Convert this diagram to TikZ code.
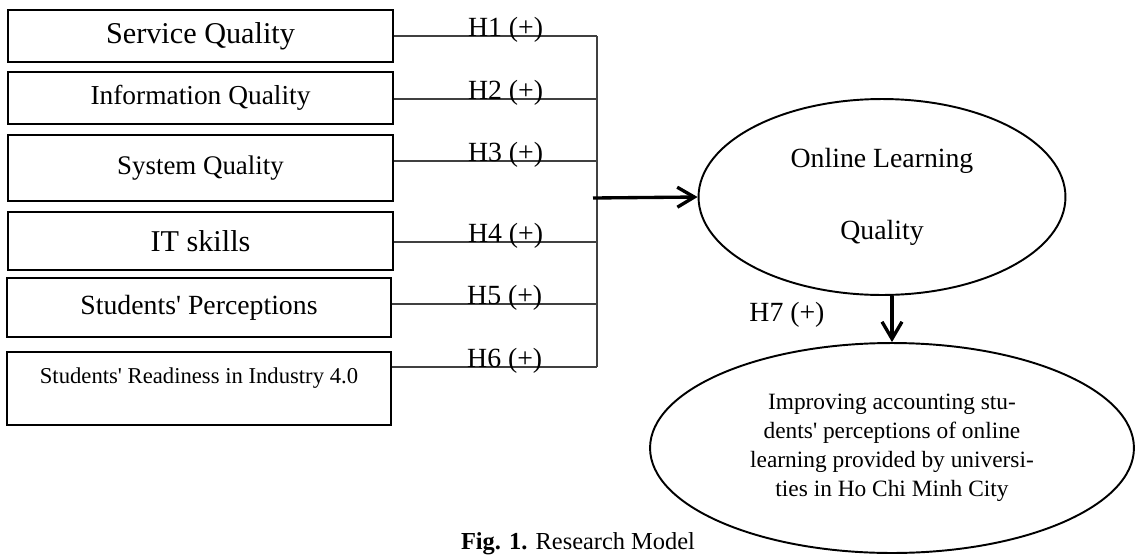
\documentclass[tikz,border=0pt]{standalone}
\usepackage{fontspec}
\setmainfont{Liberation Serif}
\usetikzlibrary{arrows.meta, positioning, shapes.geometric}
\newcommand{\fsz}[2]{\fontsize{#1}{#2}\selectfont}
\newcommand{\apos}{\textquotesingle}

\begin{document}
\begin{tikzpicture}[x=0.02cm, y=-0.02cm,
  factor/.style={draw, line width=1.1pt, minimum width=7.7cm, inner sep=0pt},
  link/.style={draw=black!75, line width=0.6pt},
  hyp/.style={anchor=base, inner sep=0pt, font=\fsz{15.8pt}{19pt}},
  bigarrow/.style={-{Straight Barb[length=3.4mm, width=4mm]}, line width=1.9pt},
  oval/.style={draw, ellipse, line width=1.1pt, inner sep=0pt, align=center}]
  \useasboundingbox (0,0) rectangle (1140,555);

  % Factors
  \node[factor, minimum height=1.04cm, font=\fsz{17.2pt}{20pt}] (sq) at (200.5,36) {Service Quality};
  \node[factor, minimum height=1.04cm, font=\fsz{15.6pt}{19pt}] (iq) at (200.5,98) {Information Quality};
  \node[factor, minimum height=1.32cm, font=\fsz{15.3pt}{18pt}] (sys) at (200.5,168) {System Quality};
  \node[factor, minimum height=1.16cm, font=\fsz{17.2pt}{20pt}] (it) at (200.5,241) {IT skills};
  \node[factor, minimum height=1.18cm, minimum width=7.68cm, font=\fsz{15.8pt}{19pt}] (sp) at (199,307.5) {Students\apos{} Perceptions};
  \node[factor, minimum height=1.46cm, minimum width=7.68cm, text depth=0.5cm, font=\fsz{12.9pt}{15pt}] (rd) at (199,388.5) {Students\apos{} Readiness in Industry 4.0};

  % Bus
  \coordinate (j1) at (597,36);
  \coordinate (j2) at (597,99);
  \coordinate (j3) at (597,161);
  \coordinate (j4) at (597,242);
  \coordinate (j5) at (597,304);
  \coordinate (j6) at (597,367);
  \coordinate (jm) at (593,198);

  \draw[link] (sq.east |- j1) -- node[hyp, pos=0.55] (h1) {H1 (+)} (j1);
  \draw[link] (iq.east |- j2) -- node[hyp, pos=0.55] (h2) {H2 (+)} (j2);
  \draw[link] (sys.east |- j3) -- node[hyp, pos=0.55] (h3) {H3 (+)} (j3);
  \draw[link] (it.east |- j4) -- node[hyp, pos=0.55] (h4) {H4 (+)} (j4);
  \draw[link] (sp.east |- j5) -- node[hyp, pos=0.55] (h5) {H5 (+)} (j5);
  \draw[link] (rd.east |- j6) -- node[hyp, pos=0.55] (h6) {H6 (+)} (j6);
  \draw[link] (j1) -- (j6);

  % Outcomes
  \node[oval, minimum width=7.34cm, minimum height=3.92cm, font=\fsz{15.8pt}{19pt}] (ol) at (882,197) {Online Learning\\[22pt]Quality};
  \node[oval, minimum width=9.68cm, minimum height=4.2cm, font=\fsz{13.3pt}{16.5pt}] (ie) at (892,448) {Improving accounting stu-\\dents\apos{} perceptions of online\\learning provided by universi-\\ties in Ho Chi Minh City};

  % Arrows
  \draw[bigarrow] (jm) -- (ol.west);
  \draw[bigarrow] (ol.south -| ie.north) -- node[pos=0.4, left=1.2cm, font=\fsz{15.8pt}{19pt}] (h7) {H7 (+)} (ie.north);

  % Caption
  \node[anchor=base, font=\fsz{13.9pt}{16pt}] (cap) at (578,549) {\textbf{Fig. 1.} Research Model};
\end{tikzpicture}
\end{document}
